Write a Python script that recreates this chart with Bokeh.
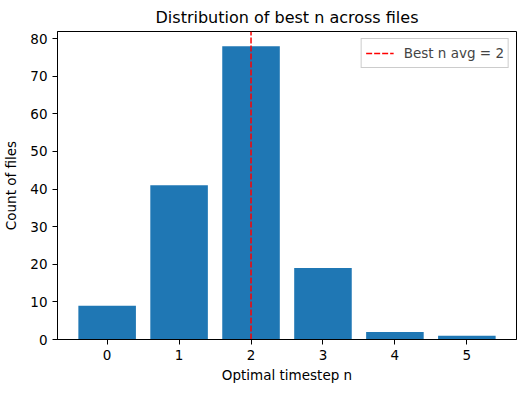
from bokeh.plotting import figure
from bokeh.models import Legend, LegendItem, Range1d, FixedTicker
from bokeh.embed import file_html
from bokeh.resources import INLINE

n_values = [0, 1, 2, 3, 4, 5]
counts = [9, 41, 78, 19, 2, 1]
best_n_avg = 2
y_ticks = [0, 10, 20, 30, 40, 50, 60, 70, 80]

FONT = "DejaVu Sans"

p = figure(width=515, height=377, output_backend="svg", toolbar_location=None,
           x_range=Range1d(-0.69, 5.69), y_range=Range1d(0, 81.9),
           min_border_left=49, min_border_right=7, min_border_top=24, min_border_bottom=45)
p.frame_width = 459
p.frame_height = 308

p.vbar(x=n_values, top=counts, width=0.8, fill_color="#1f77b4", line_color=None)
r = p.line(x=[best_n_avg, best_n_avg], y=[0, 81.9], line_color="red", line_width=1.5, line_dash="6 2")

p.title.text = "Distribution of best n across files"
p.title.text_font = FONT
p.title.text_font_size = "16px"
p.title.text_font_style = "normal"
p.title.text_color = "black"
p.title.align = "center"

p.xaxis.axis_label = "Optimal timestep n"
p.yaxis.axis_label = "Count of files"
p.xaxis.ticker = FixedTicker(ticks=n_values)
p.yaxis.ticker = FixedTicker(ticks=y_ticks)
for ax in (p.xaxis[0], p.yaxis[0]):
    ax.axis_label_text_font = FONT
    ax.axis_label_text_font_size = "13.5px"
    ax.axis_label_text_font_style = "normal"
    ax.major_label_text_font = FONT
    ax.major_label_text_font_size = "13.5px"
    ax.minor_tick_line_color = None
    ax.major_tick_in = 0
    ax.major_tick_out = 5
    ax.axis_line_color = "black"
    ax.major_tick_line_color = "black"
    ax.major_label_text_color = "black"
    ax.axis_label_text_color = "black"
p.xaxis.axis_label_standoff = 4
p.yaxis.axis_label_standoff = 8

p.xgrid.grid_line_color = None
p.ygrid.grid_line_color = None
p.outline_line_color = "black"
p.outline_line_alpha = 1.0

legend = Legend(items=[LegendItem(label="Best n avg = 2", renderers=[r])], location="top_right")
legend.label_text_font = FONT
legend.label_text_font_size = "13.5px"
legend.border_line_color = "#cccccc"
legend.border_line_alpha = 1.0
legend.background_fill_alpha = 0.8
legend.glyph_width = 28
legend.padding = 4
legend.margin = 7
legend.spacing = 0
legend.label_standoff = 10
p.add_layout(legend)

open("out.html", "w").write(file_html(p, INLINE))
